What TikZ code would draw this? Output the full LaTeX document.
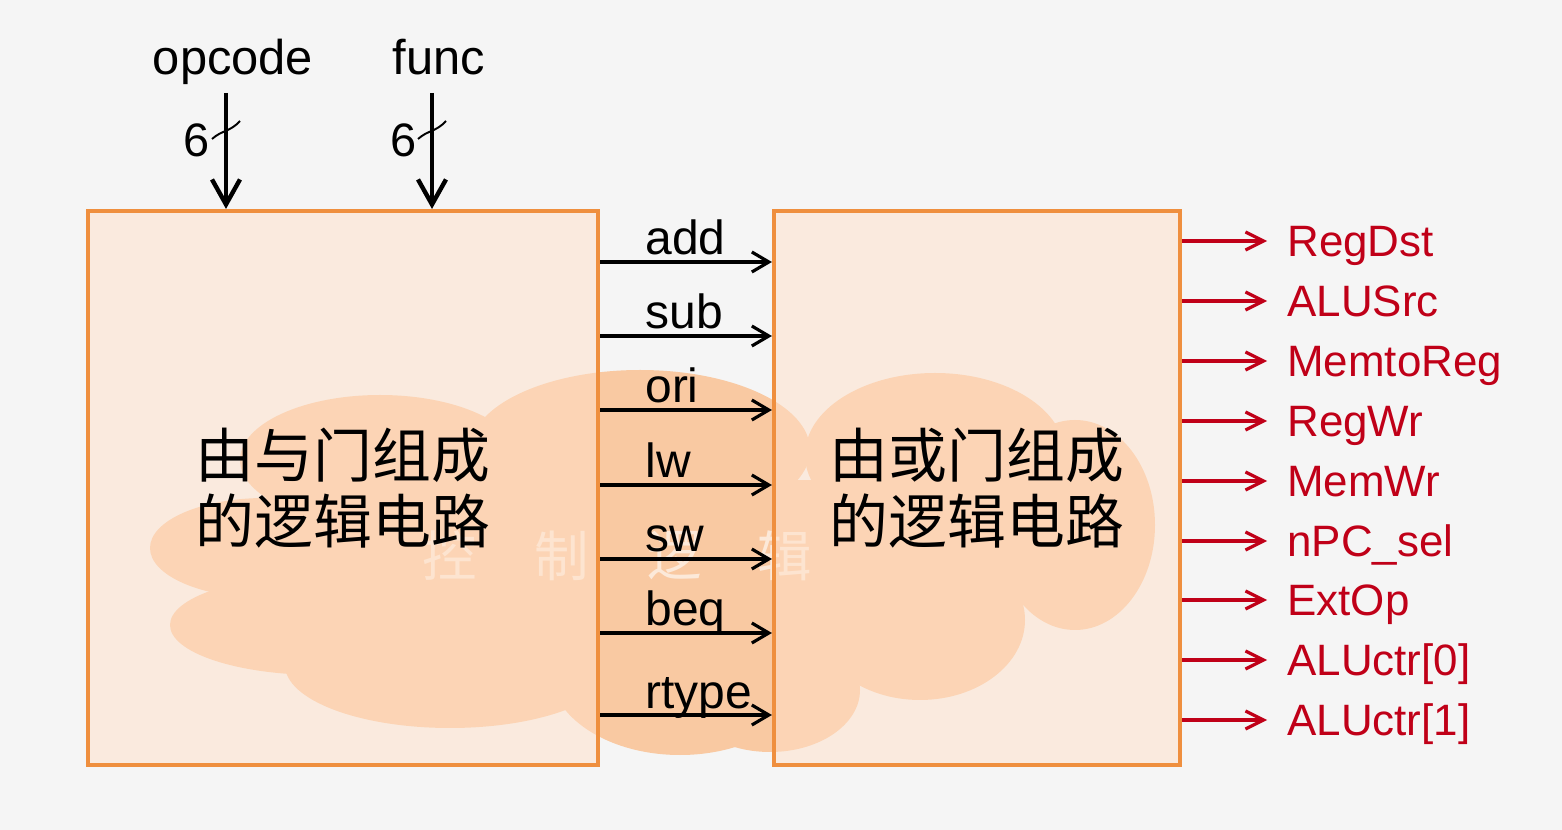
\documentclass[tikz,border=0pt]{standalone}
\usepackage{fontspec}
\setmainfont{Liberation Sans}
\newfontfamily\cjk{Noto Sans CJK SC}
\usetikzlibrary{arrows.meta}
\definecolor{bgc}{HTML}{F5F5F5}
\definecolor{cloudc}{HTML}{F9C9A2}
\definecolor{boxline}{HTML}{EF8F3E}
\definecolor{boxfill}{HTML}{FFE0C8}
\definecolor{outred}{HTML}{C00018}
\tikzset{
  cloudpart/.style={fill=cloudc, draw=none},
  box/.style={draw=boxline, line width=2.4pt, fill=boxfill, fill opacity=0.5, text opacity=1,
    align=center, inner sep=0pt, font=\cjk\fontsize{33.5}{38}\selectfont},
  wm/.style={text=white, text opacity=0.6, font=\cjk\fontsize{31}{31}\selectfont, inner sep=0pt},
  midarr/.style={draw=black, line width=1.8pt, -{Straight Barb[length=0.34cm,width=0.4cm]}},
  midlab/.style={anchor=base west, inner sep=0pt, font=\fontsize{27.3}{30}\selectfont},
  outarr/.style={draw=outred, line width=1.8pt, -{Straight Barb[length=0.36cm,width=0.36cm]}, shorten >=0.4cm},
  outlab/.style={anchor=base west, inner sep=0pt, text=outred, font=\fontsize{25}{28}\selectfont},
  inarr/.style={draw=black, line width=2.5pt, -{Straight Barb[length=0.5cm,width=0.56cm]}},
  inlab/.style={anchor=base, inner sep=0pt, font=\fontsize{27.8}{30}\selectfont},
  sixlab/.style={inner sep=0pt, font=\fontsize{26.7}{28}\selectfont},
  tickl/.style={draw=black, line width=1.1pt}
}
\begin{document}
\begin{tikzpicture}[x=0.02cm,y=-0.02cm]
\fill[bgc] (0,0) rectangle (1562,830);
\useasboundingbox (0,0) rectangle (1562,830);
% cloud
\fill[cloudpart] (265,548) ellipse [x radius=115, y radius=50];
\fill[cloudpart] (320,625) ellipse [x radius=150, y radius=50];
\fill[cloudpart] (450,665) ellipse [x radius=165, y radius=63];
\fill[cloudpart] (380,460) ellipse [x radius=140, y radius=65];
\fill[cloudpart] (640,450) ellipse [x radius=170, y radius=80];
\fill[cloudpart] (680,670) ellipse [x radius=130, y radius=85];
\fill[cloudpart] (770,690) ellipse [x radius=90, y radius=62];
\fill[cloudpart] (935,455) ellipse [x radius=130, y radius=82];
\fill[cloudpart] (1075,525) ellipse [x radius=80, y radius=105];
\fill[cloudpart] (920,620) ellipse [x radius=105, y radius=80];
\fill[cloudpart] (300,480) rectangle (1012,640);
% watermark
\foreach \c/\x [count=\i] in {控/450,制/562,逻/675,辑/785}{
  \node[wm] (w\i) at (\x,556) {\c};
}
% boxes
\node[box, minimum width=10.2cm, minimum height=11.08cm] (L) at (343,488) {由与门组成\\的逻辑电路};
\node[box, minimum width=8.12cm, minimum height=11.08cm] (R) at (977,488) {由或门组成\\的逻辑电路};
% inputs
\node[inlab] (op) at (233,75) {opcode};
\node[inlab] (fn) at (439,75) {func};
\coordinate (opc) at (226,93);
\coordinate (fnc) at (432,93);
\draw[inarr] (opc) -- (opc |- L.north);
\draw[inarr] (fnc) -- (fnc |- L.north);
\draw[tickl] (212,139) .. controls (222,130) and (230,132) .. (240,121);
\draw[tickl] (418,139) .. controls (428,130) and (436,132) .. (446,121);
\node[sixlab] (s1) at (197,140) {6};
\node[sixlab] (s2) at (404,140) {6};
% middle signals
\foreach \t/\y [count=\i] in {add/262,sub/336,ori/410,lw/485,sw/559,beq/633,rtype/715}{
  \coordinate (m\i) at (0,\y);
  \draw[midarr] (L.east |- m\i) -- (R.west |- m\i);
  \node[midlab] (ml\i) at (645,\y-7) {\t};
}
% outputs
\foreach \t/\y [count=\i] in {RegDst/241,ALUSrc/301,MemtoReg/361,RegWr/421,MemWr/481,{nPC\_sel}/541,ExtOp/600,{ALUctr[0]}/660,{ALUctr[1]}/720}{
  \coordinate (c\i) at (0,\y);
  \node[outlab] (o\i) at (1287,\y+16) {\t};
  \draw[outarr] (R.east |- c\i) -- (o\i.west |- c\i);
}
\end{tikzpicture}
\end{document}
